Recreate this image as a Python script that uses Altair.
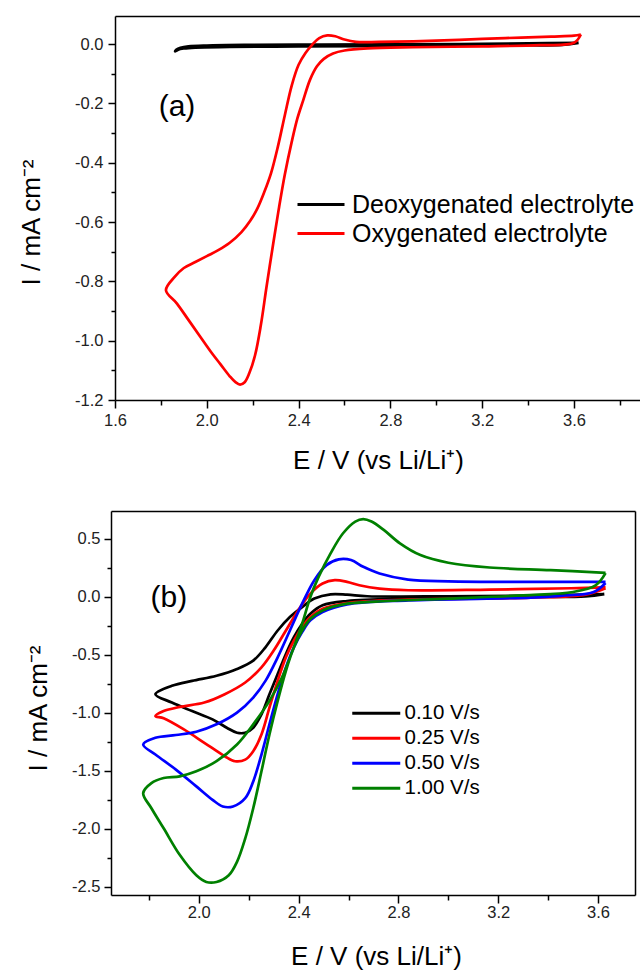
import altair as alt
import pandas as pd

FONT = "Liberation Sans"

# ---------------- Panel (a) data ----------------
A_SERIES = ["Deoxygenated electrolyte", "Oxygenated electrolyte"]
A_COLORS = ["#000000", "#ff0000"]

A_DEOX_E = [3.62, 3.55, 3.30, 3.00, 2.70, 2.40, 2.10, 1.95, 1.90, 1.875, 1.862,
            1.868, 1.885, 1.92, 2.00, 2.20, 2.50, 2.80, 3.10, 3.40, 3.62]
A_DEOX_I = [0.004, -0.003, -0.004, -0.006, -0.007, -0.008, -0.010, -0.012, -0.015, -0.019, -0.025,
            -0.019, -0.013, -0.008, -0.005, -0.003, -0.002, -0.001, 0.000, 0.002, 0.004]

A_OX_E = [3.63, 3.60, 3.45, 3.20, 2.90, 2.70, 2.60, 2.55, 2.51, 2.48, 2.45, 2.42, 2.395, 2.37,
          2.34, 2.315, 2.29, 2.26, 2.235, 2.21, 2.185, 2.165, 2.145, 2.125, 2.10, 2.06, 2.02,
          1.97, 1.92, 1.87, 1.822,
          1.86, 1.90, 1.95, 2.00, 2.05, 2.10, 2.15, 2.19, 2.22, 2.25, 2.28, 2.31, 2.34, 2.37,
          2.40, 2.43, 2.46, 2.49, 2.525, 2.56, 2.60, 2.65, 2.75, 2.90, 3.10, 3.30, 3.50, 3.60, 3.63]
A_OX_I = [0.032, 0.004, -0.004, -0.008, -0.011, -0.015, -0.022, -0.032, -0.050, -0.075, -0.12,
          -0.19, -0.25, -0.33, -0.44, -0.55, -0.67, -0.82, -0.95, -1.05, -1.11, -1.14, -1.148,
          -1.14, -1.12, -1.08, -1.04, -0.985, -0.93, -0.875, -0.83,
          -0.785, -0.755, -0.735, -0.715, -0.695, -0.67, -0.635, -0.595, -0.555, -0.50, -0.435,
          -0.345, -0.24, -0.14, -0.07, -0.03, -0.002, 0.020, 0.029, 0.026, 0.015, 0.007, 0.007,
          0.009, 0.014, 0.020, 0.025, 0.028, 0.032]

# ---------------- Panel (b) data ----------------
B_SERIES = ["0.10 V/s", "0.25 V/s", "0.50 V/s", "1.00 V/s"]
B_COLORS = ["#000000", "#ff0000", "#0000ff", "#008000"]

B_010_E = [3.625, 3.55, 3.33, 2.84, 2.594, 2.496, 2.447, 2.414, 2.381, 2.349, 2.316, 2.283,
           2.251, 2.218, 2.186, 2.153, 2.112, 2.055, 1.973, 1.892, 1.826,
           1.892, 1.973, 2.071, 2.153, 2.218, 2.267, 2.316, 2.365, 2.414, 2.463, 2.528, 2.594,
           2.675, 3.0, 3.33, 3.625]
B_010_I = [0.025, 0.005, 0.0, -0.014, -0.035, -0.072, -0.145, -0.231, -0.347, -0.491, -0.665,
           -0.838, -1.012, -1.127, -1.17, -1.17, -1.127, -1.055, -0.983, -0.91, -0.838,
           -0.766, -0.723, -0.679, -0.621, -0.549, -0.434, -0.289, -0.173, -0.087, -0.014,
           0.023, 0.020, 0.006, 0.006, 0.012, 0.025]

B_025_E = [3.63, 3.55, 3.33, 2.84, 2.594, 2.496, 2.447, 2.414, 2.381, 2.349, 2.316, 2.283,
           2.251, 2.218, 2.186, 2.145, 2.104, 2.022, 1.94, 1.859, 1.826,
           1.859, 1.924, 2.022, 2.104, 2.186, 2.251, 2.30, 2.349, 2.398, 2.447, 2.496, 2.545,
           2.594, 2.643, 2.724, 2.839, 3.165, 3.492, 3.63]
B_025_I = [0.075, 0.02, -0.006, -0.023, -0.052, -0.101, -0.173, -0.26, -0.376, -0.52, -0.723,
           -0.954, -1.185, -1.329, -1.402, -1.416, -1.373, -1.257, -1.142, -1.046, -1.026,
           -0.983, -0.948, -0.91, -0.838, -0.737, -0.607, -0.462, -0.289, -0.116, 0.029, 0.116,
           0.145, 0.13, 0.101, 0.072, 0.058, 0.064, 0.075, 0.085]

B_050_E = [3.63, 3.58, 3.45, 3.33, 2.84, 2.594, 2.496, 2.447, 2.414, 2.381, 2.349, 2.316,
           2.283, 2.251, 2.218, 2.186, 2.137, 2.096, 2.055, 1.99, 1.908, 1.826, 1.777,
           1.826, 1.908, 1.99, 2.071, 2.153, 2.218, 2.267, 2.316, 2.365, 2.414, 2.463, 2.512,
           2.561, 2.61, 2.659, 2.724, 2.839, 3.0, 3.33, 3.63]
B_050_I = [0.12, 0.04, 0.01, -0.006, -0.029, -0.064, -0.13, -0.202, -0.303, -0.434, -0.607,
           -0.838, -1.098, -1.358, -1.59, -1.734, -1.806, -1.806, -1.749, -1.633, -1.488,
           -1.358, -1.272,
           -1.214, -1.19, -1.162, -1.098, -0.997, -0.867, -0.723, -0.52, -0.289, -0.058, 0.145,
           0.275, 0.324, 0.318, 0.26, 0.202, 0.15, 0.135, 0.13, 0.13]

B_100_E = [3.63, 3.59, 3.50, 3.30, 3.0, 2.757, 2.594, 2.496, 2.447, 2.414, 2.381, 2.349, 2.316,
           2.283, 2.251, 2.218, 2.186, 2.153, 2.12, 2.071, 2.03, 1.99, 1.924, 1.859, 1.81, 1.777,
           1.81, 1.859, 1.924, 1.99, 2.071, 2.153, 2.218, 2.283, 2.333, 2.381, 2.414, 2.447,
           2.48, 2.528, 2.578, 2.627, 2.659, 2.692, 2.741, 2.806, 2.888, 3.0, 3.165, 3.41, 3.63]
B_100_I = [0.205, 0.10, 0.043, 0.014, -0.014, -0.035, -0.058, -0.116, -0.188, -0.289, -0.434,
           -0.636, -0.896, -1.185, -1.503, -1.821, -2.081, -2.283, -2.399, -2.457, -2.457,
           -2.399, -2.225, -1.994, -1.821, -1.691,
           -1.604, -1.561, -1.546, -1.503, -1.416, -1.272, -1.098, -0.896, -0.694, -0.434,
           -0.231, 0.0, 0.173, 0.376, 0.549, 0.65, 0.671, 0.65, 0.578, 0.462, 0.361, 0.295,
           0.254, 0.231, 0.208]

# tick values
XA_TICKS = [1.6, 1.8, 2.0, 2.2, 2.4, 2.6, 2.8, 3.0, 3.2, 3.4, 3.6, 3.8]
YA_TICKS = [-1.2, -1.1, -1.0, -0.9, -0.8, -0.7, -0.6, -0.5, -0.4, -0.3, -0.2, -0.1, 0.0]
XB_TICKS = [1.8, 2.0, 2.2, 2.4, 2.6, 2.8, 3.0, 3.2, 3.4, 3.6]
YB_TICKS = [-2.5, -2.25, -2.0, -1.75, -1.5, -1.25, -1.0, -0.75, -0.5, -0.25, 0.0, 0.25, 0.5]

PANEL_LABELS_A = ["(a)"]
PANEL_LABELS_B = ["(b)"]


def loop(series, E, I):
    return pd.DataFrame({"E": E, "I": I, "series": series, "idx": list(range(len(E)))})


df_a = pd.concat([loop(A_SERIES[0], A_DEOX_E, A_DEOX_I),
                  loop(A_SERIES[1], A_OX_E, A_OX_I)], ignore_index=True)
df_b = pd.concat([loop(B_SERIES[0], B_010_E, B_010_I),
                  loop(B_SERIES[1], B_025_E, B_025_I),
                  loop(B_SERIES[2], B_050_E, B_050_I),
                  loop(B_SERIES[3], B_100_E, B_100_I)], ignore_index=True)

lab_a = pd.DataFrame({"E": [1.87], "I": [-0.213], "t": PANEL_LABELS_A})
lab_b = pd.DataFrame({"E": [1.88], "I": [-0.01], "t": PANEL_LABELS_B})

xa = alt.Scale(domain=[1.6, 3.8876], range=[115, 640], nice=False, zero=False)
ya = alt.Scale(domain=[-1.2, 0.0944], range=[400, 16], nice=False, zero=False)
xb = alt.Scale(domain=[1.648, 3.748], range=[111, 635], nice=False, zero=False)
yb = alt.Scale(domain=[-2.569, 0.741], range=[895, 511], nice=False, zero=False)

X_MAJOR = "abs(round(datum.value*10))%4==0"
YA_MAJOR = "abs(round(datum.value*10))%2==0"
YB_MAJOR = "abs(round(datum.value*4))%2==0"


def num_label(test):
    return (f"{test} ? (datum.value < -0.0001 ? '-' : '') + format(abs(datum.value), '.1f') : ''")


def ax(**kw):
    base = dict(grid=False, domainColor="black", domainWidth=1.5, tickColor="black",
                tickWidth=1.5, labelFont=FONT, labelFontSize=16.5, labelColor="#222222",
                titleFont=FONT, titleFontSize=26, titleFontWeight="normal",
                titleColor="black", labelOverlap=False, labelFlush=False)
    base.update(kw)
    return alt.Axis(**base)


def frame_axis(orient, offset):
    return alt.Axis(orient=orient, offset=offset, labels=False, ticks=False, title=None,
                    grid=False, domainColor="black", domainWidth=1.5)


# ---------- panel (a) ----------
lines_a = alt.Chart(df_a).mark_line(strokeWidth=2.7, interpolate="catmull-rom").encode(
    x=alt.X("E:Q", scale=xa, axis=ax(
        orient="bottom", offset=-571, values=XA_TICKS, labelExpr=num_label(X_MAJOR),
        tickSize={"condition": {"test": X_MAJOR, "value": 8}, "value": 5},
        labelPadding=4, title="E / V (vs Li/Li\u207a)", titleX=378, titleY=68,
        titleBaseline="alphabetic")),
    y=alt.Y("I:Q", scale=ya, axis=ax(
        orient="left", offset=-115, values=YA_TICKS, labelExpr=num_label(YA_MAJOR),
        tickSize={"condition": {"test": YA_MAJOR, "value": 7}, "value": 4},
        labelPadding=5, title="I / mA cm\u207b\u00b2", titleX=-76, titleY=222,
        titleBaseline="alphabetic")),
    color=alt.Color("series:N", scale=alt.Scale(domain=A_SERIES, range=A_COLORS),
                    legend=alt.Legend(title=None, orient="none", legendX=308.5, legendY=192,
                                      symbolType="M-5.875,0H5.875", symbolSize=64,
                                      symbolStrokeWidth=3, labelFont=FONT, labelFontSize=25,
                                      labelColor="black", labelOffset=18.5, rowPadding=3,
                                      padding=0, labelLimit=600)),
    order=alt.Order("idx:Q"),
)

text_a = alt.Chart(lab_a).mark_text(font=FONT, fontSize=30, color="black",
                                    align="center", baseline="middle").encode(
    x=alt.X("E:Q", scale=xa, axis=None),
    y=alt.Y("I:Q", scale=ya, axis=None),
    text="t:N",
)

top_a = alt.Chart(df_a).mark_point(opacity=0, size=1).encode(
    x=alt.X("E:Q", scale=xa, axis=frame_axis("top", -16)),
    y=alt.Y("I:Q", scale=ya, axis=None),
)

panel_a = alt.layer(lines_a, text_a, top_a).resolve_axis(x="independent", y="independent")

# ---------- panel (b) ----------
lines_b = alt.Chart(df_b).mark_line(strokeWidth=2.7, interpolate="catmull-rom").encode(
    x=alt.X("E:Q", scale=xb, axis=ax(
        orient="bottom", offset=-76, values=XB_TICKS, labelExpr=num_label(X_MAJOR),
        tickSize={"condition": {"test": X_MAJOR, "value": 8}, "value": 5},
        labelPadding=1, title="E / V (vs Li/Li\u207a)", titleX=376, titleY=69,
        titleBaseline="alphabetic")),
    y=alt.Y("I:Q", scale=yb, axis=ax(
        orient="left", offset=-111, values=YB_TICKS, labelExpr=num_label(YB_MAJOR),
        tickSize={"condition": {"test": YB_MAJOR, "value": 7}, "value": 4},
        labelPadding=4, title="I / mA cm\u207b\u00b2", titleX=-65, titleY=708,
        titleBaseline="alphabetic")),
    color=alt.Color("series:N", scale=alt.Scale(domain=B_SERIES, range=B_COLORS),
                    legend=alt.Legend(title=None, orient="none", legendX=366, legendY=703,
                                      symbolType="M-6,0H6", symbolSize=64,
                                      symbolStrokeWidth=3, labelFont=FONT, labelFontSize=20.5,
                                      labelColor="black", labelOffset=18, rowPadding=4,
                                      padding=0, labelLimit=600)),
    order=alt.Order("idx:Q"),
)

text_b = alt.Chart(lab_b).mark_text(font=FONT, fontSize=30, color="black",
                                    align="center", baseline="middle").encode(
    x=alt.X("E:Q", scale=xb, axis=None),
    y=alt.Y("I:Q", scale=yb, axis=None),
    text="t:N",
)

top_b = alt.Chart(df_b).mark_point(opacity=0, size=1).encode(
    x=alt.X("E:Q", scale=xb, axis=frame_axis("top", -511)),
    y=alt.Y("I:Q", scale=yb, axis=frame_axis("right", -5)),
)

panel_b = alt.layer(lines_b, text_b, top_b).resolve_axis(x="independent", y="independent")

chart = alt.layer(panel_a, panel_b).resolve_scale(
    x="independent", y="independent", color="independent"
).resolve_axis(x="independent", y="independent").resolve_legend(color="independent").properties(
    width=640, height=971, autosize=alt.AutoSizeParams(type="none"), padding=0
).configure_view(stroke="transparent")

chart.save("out.html", embed_options={"renderer": "svg", "actions": False})
